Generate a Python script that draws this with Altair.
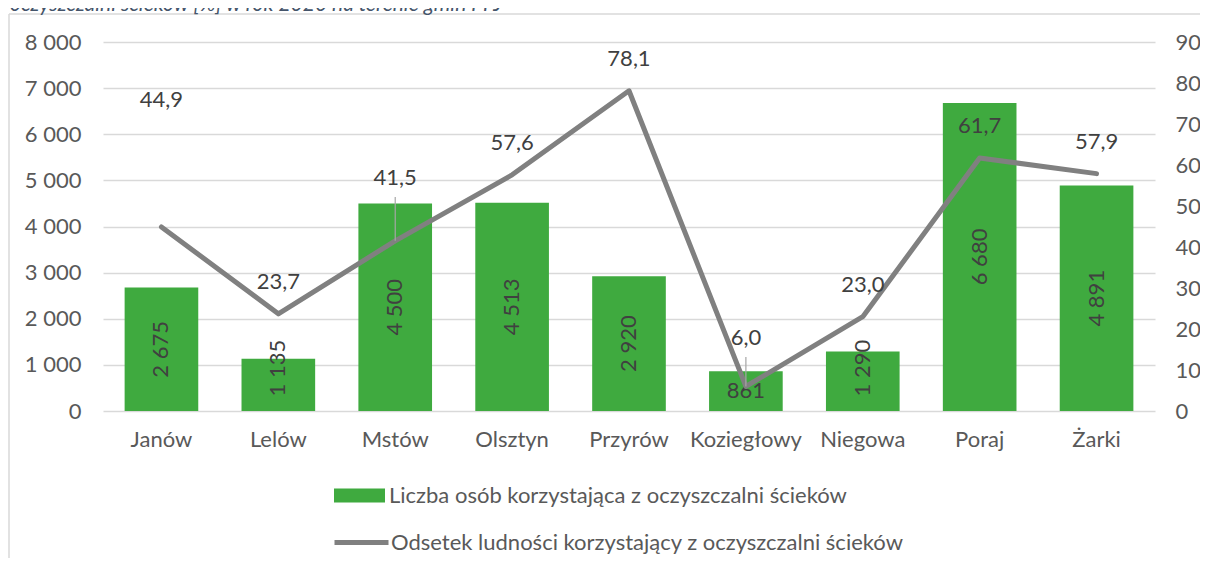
import altair as alt
import pandas as pd

gminy = ["Janów", "Lelów", "Mstów", "Olsztyn", "Przyrów", "Koziegłowy", "Niegowa", "Poraj", "Żarki"]
osoby = [2675, 1135, 4500, 4513, 2920, 861, 1290, 6680, 4891]
odsetek = [44.9, 23.7, 41.5, 57.6, 78.1, 6.0, 23.0, 61.7, 57.9]

bar_name = "Liczba osób korzystająca z oczyszczalni ścieków"
line_name = "Odsetek ludności korzystający z oczyszczalni ścieków"
title_text = "oczyszczalni ścieków [%] w rok 2020 na terenie gmin PPJ"

df = pd.DataFrame({"gmina": gminy, "osoby": osoby, "pct": odsetek})

FONT = "Lato"
AX_COL = "#595959"
LBL_COL = "#404040"
GREEN = "#3FAA3F"
GREY = "#808080"

x_enc = alt.X(
    "gmina:N", sort=gminy, title=None,
    scale=alt.Scale(paddingInner=0.37, paddingOuter=0.185),
    axis=alt.Axis(labelAngle=0, labelFont=FONT, labelFontSize=22, labelColor=AX_COL,
                  labelPadding=18, ticks=False, domain=False, grid=False),
)

LEFT_DOM = [0, 8000]
RIGHT_DOM = [0, 90]

y_left = alt.Y(
    "osoby:Q", title=None, scale=alt.Scale(domain=LEFT_DOM),
    axis=alt.Axis(values=list(range(0, 8001, 1000)), labelFont=FONT, labelFontSize=22,
                  labelColor=AX_COL, labelPadding=22, ticks=False, domain=False,
                  grid=True, gridColor="#D9D9D9", gridWidth=1.5, orient="left",
                  labelExpr="replace(format(datum.value, ','), ',', ' ')"),
)

y_right = alt.Y(
    "pct:Q", title=None, scale=alt.Scale(domain=RIGHT_DOM),
    axis=alt.Axis(values=list(range(0, 91, 10)), labelFont=FONT, labelFontSize=22,
                  labelColor=AX_COL, labelPadding=20, ticks=False, domain=False,
                  grid=False, orient="right", format="d"),
)

base = alt.Chart(df).transform_calculate(
    s1=f"'{bar_name}'",
    s2=f"'{line_name}'",
    mid="max(datum.osoby / 2, 930)",
    lab="replace(format(datum.osoby, ','), ',', ' ')",
    plab="replace(format(datum.pct, '.1f'), '.', ',')",
    label_v="datum.pct + (datum.gmina == 'Janów' ? 31 : datum.gmina == 'Mstów' ? 15.3 : datum.gmina == 'Koziegłowy' ? 11.8 : 7.7)",
    lead_top="datum.label_v - 4.6",
)

bars = base.mark_bar().encode(
    x=x_enc, y=y_left,
    fill=alt.Fill("s1:N", scale=alt.Scale(range=[GREEN]),
                  legend=alt.Legend(title=None, orient="none", legendX=231, legendY=428,
                                    symbolType="M-1,-0.275H1V0.275H-1Z", symbolSize=2601,
                                    symbolStrokeWidth=0, labelFont=FONT, labelFontSize=22,
                                    labelColor=AX_COL, labelOffset=4, labelLimit=800)),
)

y_mid = alt.Y("mid:Q", scale=alt.Scale(domain=LEFT_DOM), axis=None)

bar_lab_rot = base.transform_filter("datum.osoby >= 1000").mark_text(
    angle=270, font=FONT, fontSize=22, color=LBL_COL, baseline="middle", align="center"
).encode(x=x_enc, y=y_mid, text="lab:N")

bar_lab_flat = base.transform_filter("datum.osoby < 1000").transform_calculate(
    mid="datum.osoby / 2"
).mark_text(
    font=FONT, fontSize=22, color=LBL_COL, baseline="middle", align="center"
).encode(x=x_enc, y=y_mid, text="lab:N")

line = base.mark_line(strokeWidth=5, strokeCap="round", strokeJoin="round").encode(
    x=x_enc, y=y_right,
    stroke=alt.Stroke("s2:N", scale=alt.Scale(range=[GREY]),
                      legend=alt.Legend(title=None, orient="none", legendX=229, legendY=471,
                                        symbolType="stroke", symbolSize=2916,
                                        symbolStrokeWidth=5, labelFont=FONT, labelFontSize=22,
                                        labelColor=AX_COL, labelOffset=0, labelLimit=800)),
)

leaders = base.transform_filter(
    "datum.gmina == 'Mstów' || datum.gmina == 'Koziegłowy'"
).mark_rule(color="#A6A6A6", strokeWidth=1.2).encode(
    x=x_enc,
    y=alt.Y("pct:Q", scale=alt.Scale(domain=RIGHT_DOM), axis=None),
    y2="lead_top:Q",
)

line_labels = base.mark_text(
    font=FONT, fontSize=22, color=LBL_COL, baseline="middle", align="center"
).encode(
    x=x_enc,
    y=alt.Y("label_v:Q", scale=alt.Scale(domain=RIGHT_DOM), axis=None),
    text="plab:N",
)

one = alt.Data(values=[{"t": title_text}])
frame_left = alt.Chart(one).mark_rule(color="#D9D9D9", strokeWidth=1.5).encode(
    x=alt.value(-94), y=alt.value(-28), y2=alt.value(516))
frame_top = alt.Chart(one).mark_rule(color="#D9D9D9", strokeWidth=1.5).encode(
    x=alt.value(-94), x2=alt.value(1097), y=alt.value(-28))
title = alt.Chart(one).mark_text(
    font=FONT, fontSize=21, fontStyle="italic", color="#44546A", align="left", baseline="alphabetic"
).encode(x=alt.value(-93), y=alt.value(-31), text="t:N")

chart = alt.layer(
    bars, bar_lab_rot, bar_lab_flat, line, leaders, line_labels, frame_left, frame_top, title
).resolve_scale(
    y="independent", fill="independent", stroke="independent"
).properties(
    width=1052, height=369,
    autosize=alt.AutoSizeParams(type="none"),
    padding={"left": 95, "top": 34, "right": 45, "bottom": 147},
).configure_view(stroke=None)

chart.save("out.html", embed_options={"renderer": "svg", "actions": False})
